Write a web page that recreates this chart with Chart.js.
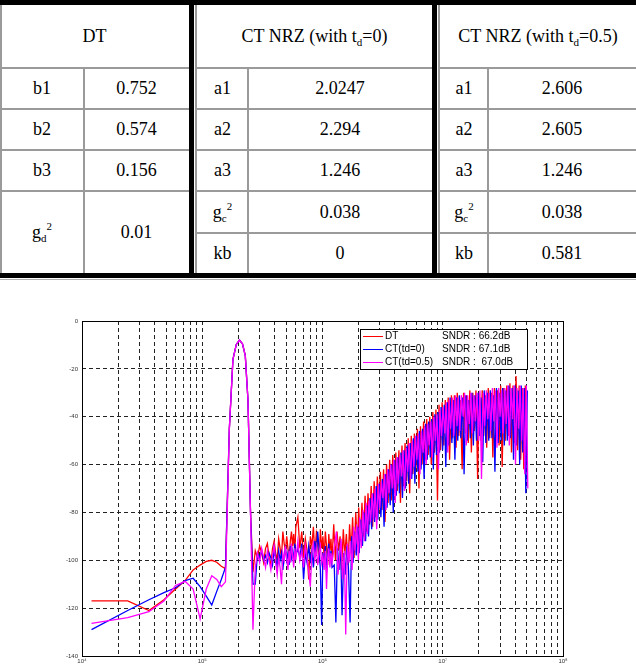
<!DOCTYPE html>
<html><head><meta charset="utf-8">
<script src="https://cdn.jsdelivr.net/npm/chart.js@4"></script>
<style>
html,body{margin:0;padding:0;background:#fff;}
body{width:636px;height:669px;position:relative;overflow:hidden;font-family:"Liberation Serif","Times New Roman",serif;}
#tbl{position:absolute;left:0;top:0;width:636px;height:281px;}
.cell{position:absolute;display:flex;align-items:center;justify-content:center;font-size:18px;color:#000;white-space:nowrap;}
.ln{position:absolute;}
.cell sub{font-size:11px;vertical-align:baseline;position:relative;top:4px;}
.cell sup{font-size:11px;vertical-align:baseline;position:relative;top:-8px;}
#cwrap{position:absolute;left:0;top:282px;width:636px;height:387px;}
</style></head><body>
<div id="tbl"></div>
<div id="cwrap"><canvas id="c" width="636" height="387"></canvas></div>
<script>
// ---------- table text ----------
const tableHeaders = ['DT', 'CT NRZ (with t<sub>d</sub>=0)', 'CT NRZ (with t<sub>d</sub>=0.5)'];
const dtParams  = ['b1', 'b2', 'b3', 'g<sub>d</sub><sup>2</sup>'];
const dtValues  = ['0.752', '0.574', '0.156', '0.01'];
const ct0Params = ['a1', 'a2', 'a3', 'g<sub>c</sub><sup>2</sup>', 'kb'];
const ct0Values = ['2.0247', '2.294', '1.246', '0.038', '0'];
const ct5Params = ['a1', 'a2', 'a3', 'g<sub>c</sub><sup>2</sup>', 'kb'];
const ct5Values = ['2.606', '2.605', '1.246', '0.038', '0.581'];

// ---------- chart data (frequency in kHz, level in dB) ----------
// shared low-frequency bins
const freqA = [12,24,36,48,60,72,84,96,108,120,
  132,144,156,168,180,192,204,216,228,240,
  252,264,276,288,300,312,324,336,348,360,
  372,384,396,408,420,432,444,456,468,480,
  492,504,516,528,540,552,564,576,588,600];
const freqB = [624,648,672,696,720,744,768,792,816,840,
  864,888,912,936,960,984,1008,1032,1056,1080,
  1104,1128,1152,1176,1200];
// high-frequency bins sampled for each trace
const freqC_dt = [1240,1280,1320,1360,1400,1440,1490,1530,1580,1630,
  1680,1730,1780,1830,1890,1950,2000,2060,2130,2190,
  2260,2320,2390,2460,2540,2610,2690,2770,2860,2940,
  3030,3120,3220,3310,3410,3510,3620,3730,3840,3950,
  4070,4190,4320,4450,4580,4720,4860,5010,5160,5310,
  5470,5640,5810,5980,6160,6340,6530,6730,6930,7140,
  7350,7570,7800,8030,8270,8520,8780,9040,9310,9590,
  9880,10200,10500,10800,11100,11400,11800,12100,12500,12900,
  13200,13600,14000,14500,14900,15400,15800,16300,16800,17300,
  17800,18300,18900,19500,20000,20600,21300,21900,22600,23200,
  23900,24600,25400,26100,26900,27700,28600,29400,30300,31200,
  32200,33100,34100,35100,36200,37300,38400,39500,40700,41900,
  43200,44500,45800,47200,48600,50000];
const freqC_ct0 = [1252,1292,1333,1373,1413,1454,1504,1545,1595,1646,
  1696,1747,1797,1848,1908,1969,2019,2080,2150,2211,
  2282,2342,2413,2484,2564,2635,2716,2797,2887,2968,
  3059,3150,3251,3342,3443,3544,3655,3766,3877,3988,
  4109,4230,4361,4493,4624,4765,4907,5058,5210,5361,
  5523,5694,5866,6037,6219,6401,6593,6795,6997,7209,
  7421,7643,7875,8107,8349,8602,8864,9127,9399,9682,
  9975,10298,10601,10904,11207,11509,11913,12216,12620,13024,
  13327,13731,14134,14639,15043,15548,15952,16456,16961,17466,
  17971,18476,19081,19687,20192,20798,21504,22110,22817,23423,
  24129,24836,25644,26351,27158,27966,28875,29682,30591,31500,
  32509,33418,34427,35437,36548,37658,38769,39879,41091,42302,
  43615,44927,46240,47653,49067,50480];
const freqC_ct5 = [1265,1305,1345,1386,1427,1468,1519,1560,1610,1661,
  1712,1763,1814,1865,1926,1988,2039,2100,2171,2232,
  2304,2365,2436,2507,2589,2660,2742,2823,2915,2997,
  3088,3180,3282,3374,3476,3578,3690,3802,3914,4026,
  4149,4271,4403,4536,4668,4811,4954,5107,5260,5413,
  5576,5749,5922,6095,6279,6462,6656,6860,7064,7278,
  7492,7716,7951,8185,8430,8684,8949,9214,9490,9775,
  10071,10397,10703,11008,11314,11620,12028,12334,12741,13149,
  13455,13862,14270,14780,15188,15697,16105,16615,17124,17634,
  18144,18653,19265,19876,20386,20998,21711,22323,23036,23648,
  24361,25075,25890,26604,27419,28235,29152,29967,30885,31802,
  32821,33739,34758,35777,36899,38020,39141,40262,41486,42709,
  44034,45359,46684,48111,49538,50965];

const dtA = [-117,-117,-121,-116.5,-112,-108.5,-104,-102,-100.5,-100,
  -100.8,-102.5,-103.5,-45,-16,-9.8,-8,-9.5,-14.5,-33,
  -80,-105,-96,-99,-94,-97,-101,-95,-93,-99,
  -102,-95,-92,-97,-100,-91,-95,-99,-88,-93,
  -96,-90,-95,-99,-92,-88,-94,-89,-97,-86];
const dtB = [-82,-95,-88,-99,-91,-96,-108,-90,-94,-86,
  -98,-89,-93,-101,-87,-95,-90,-99,-88,-94,
  -102,-89,-96,-91,-100];
const dtC = [-85,-100,-88,-96,-90,-104,-87,-98,-89,-102,
  -85,-97,-82,-99,-80,-94,-78,-92,-76,-90,
  -73,-88,-72,-85,-69,-86,-67,-82,-65,-80,
  -63,-79,-62,-84,-60,-76,-58,-75,-56,-72,
  -55,-71,-54,-76,-52,-69,-51,-67,-49,-72,
  -48,-64,-47,-62,-45,-70,-44,-60,-42,-58,
  -41,-56,-40,-60,-38,-55,-37,-75,-35,-54,
  -34,-52,-33,-50,-32,-58,-31,-49,-31,-53,
  -30,-48,-33,-62,-30,-47,-31,-51,-29,-55,
  -30,-46,-29,-66,-30,-50,-29,-48,-31,-53,
  -28,-49,-30,-57,-28,-47,-29,-52,-27,-61,
  -28,-50,-27,-48,-26,-55,-27,-51,-23,-54,
  -27,-58,-28,-62,-27,-56];

const ct0A = [-129,-121,-116.5,-113.5,-111.5,-108.5,-107.5,-111,-115,-118.7,
  -113,-108,-103,-45,-16,-9.8,-8,-9.5,-14.5,-33,
  -80,-110,-110,-97,-99,-96,-100,-98,-101,-97,
  -99,-102,-95,-99,-103,-96,-100,-97,-104,-98,
  -95,-100,-97,-102,-94,-99,-96,-101,-93,-98];
const ct0B = [-95,-99,-93,-108,-97,-101,-94,-100,-96,-103,
  -92,-98,-88,-95,-104,-127,-97,-101,-94,-105,
  -98,-93,-100,-96,-103];
const ct0C = [-102,-126,-95,-104,-92,-123,-97,-106,-94,-104,
  -126,-90,-101,-88,-98,-86,-97,-83,-94,-80,
  -92,-77,-90,-74,-87,-72,-84,-69,-83,-68,
  -82,-66,-86,-64,-78,-62,-77,-60,-80,-58,
  -73,-57,-72,-55,-74,-54,-70,-52,-68,-51,
  -66,-49,-68,-48,-63,-46,-62,-45,-66,-43,
  -58,-42,-57,-41,-62,-39,-56,-38,-55,-36,
  -54,-35,-61,-34,-52,-32,-51,-33,-58,-32,
  -50,-31,-49,-32,-64,-31,-50,-33,-49,-30,
  -52,-31,-50,-30,-48,-32,-59,-29,-51,-30,
  -50,-29,-49,-31,-63,-28,-51,-30,-50,-28,
  -52,-29,-50,-27,-49,-28,-58,-27,-52,-29,
  -60,-27,-55,-28,-72,-29];

const ct5A = [-126.4,-124,-121.5,-117,-110.5,-108.8,-112,-124.5,-112,-106.5,
  -108,-111,-109,-45,-16,-9.8,-8,-9.5,-14.5,-33,
  -80,-129,-103,-97,-101,-95,-99,-103,-96,-100,
  -104,-98,-94,-101,-106,-99,-103,-110,-97,-100,
  -94,-99,-104,-96,-101,-93,-98,-103,-95,-100];
const ct5B = [-92,-100,-96,-103,-94,-99,-105,-111,-97,-93,
  -100,-95,-102,-97,-94,-101,-98,-104,-96,-112,
  -99,-95,-103,-97,-101];
const ct5C = [-93,-88,-106,-99,-91,-108,-96,-131,-93,-101,
  -92,-104,-86,-96,-85,-100,-82,-95,-79,-92,
  -76,-89,-75,-84,-72,-83,-70,-87,-68,-78,
  -67,-74,-64,-79,-62,-72,-60,-70,-58,-76,
  -57,-68,-56,-65,-54,-71,-53,-63,-51,-66,
  -50,-61,-48,-58,-47,-64,-46,-55,-44,-60,
  -43,-52,-42,-57,-40,-50,-39,-62,-37,-48,
  -36,-47,-34,-55,-33,-45,-32,-48,-31,-44,
  -32,-46,-31,-40,-30,-52,-31,-43,-30,-47,
  -31,-42,-30,-50,-29,-66,-30,-44,-29,-41,
  -30,-46,-28,-42,-29,-53,-28,-40,-29,-47,
  -28,-43,-27,-52,-28,-41,-27,-60,-28,-45,
  -27,-50,-28,-64,-27,-70];

const seriesNames = ['DT', 'CT(td=0)', 'CT(td=0.5)'];
const sndrTexts = ['SNDR : 66.2dB', 'SNDR : 67.1dB', 'SNDR :  67.0dB'];
const yTickValues = [0, -20, -40, -60, -80, -100, -120, -140];
const xDecades = [1e4, 1e5, 1e6, 1e7, 1e8];
const xDecadeLabels = ['10\u2074', '10\u2075', '10\u2076', '10\u2077', '10\u2078'];
const xMinorMultipliers = [1, 2, 3, 4, 5, 6, 7, 8, 9];

// ---------- build table ----------
const tbl = document.getElementById('tbl');
function addCell(x, y, w, h, html) {
  const d = document.createElement('div');
  d.className = 'cell';
  d.style.left = x + 'px'; d.style.top = y + 'px';
  d.style.width = w + 'px'; d.style.height = h + 'px';
  const s = document.createElement('span');
  s.innerHTML = html;
  d.appendChild(s);
  tbl.appendChild(d);
}
function addLine(x, y, w, h, c) {
  const d = document.createElement('div');
  d.className = 'ln';
  d.style.left = x + 'px'; d.style.top = y + 'px';
  d.style.width = w + 'px'; d.style.height = h + 'px';
  d.style.background = c;
  tbl.appendChild(d);
}
const groups = [
  {l: 0, s: 84, r: 189, params: dtParams, values: dtValues},
  {l: 197, s: 248, r: 432, params: ct0Params, values: ct0Values},
  {l: 440, s: 488, r: 636, params: ct5Params, values: ct5Values}
];
const rowEdges = [68, 109, 150, 191, 233, 273];
const gray = '#9a9a9a';
groups.forEach((g, gi) => {
  addCell(g.l, 5, g.r - g.l, 63, tableHeaders[gi]);
  const n = g.params.length;
  for (let i = 0; i < n; i++) {
    const top = rowEdges[i];
    const bottom = (gi === 0 && i === n - 1) ? rowEdges[5] : rowEdges[i + 1];
    addCell(g.l, top, g.s - g.l, bottom - top, g.params[i]);
    addCell(g.s, top, g.r - g.s, bottom - top, g.values[i]);
  }
  const nLines = (gi === 0) ? 4 : 5;
  for (let i = 0; i < nLines; i++) addLine(g.l, rowEdges[i] - 1, g.r - g.l, 2, gray);
  addLine(g.s - 1, rowEdges[0], 2, rowEdges[5] - rowEdges[0], gray);
});
addLine(0, 0, 2, 278, gray);
addLine(195, 0, 2, 278, gray);
addLine(438, 0, 2, 278, gray);
addLine(0, 0, 636, 5, '#000');
addLine(0, 273, 636, 5, '#000');
addLine(0, 279, 636, 1, '#b0b0b0');
addLine(189, 0, 5, 278, '#000');
addLine(432, 0, 5, 278, '#000');

// ---------- chart ----------
function toPoints(freqs, vals) {
  const n = Math.min(freqs.length, vals.length);
  const out = [];
  for (let i = 0; i < n; i++) out.push({x: freqs[i] * 1000, y: vals[i]});
  return out;
}
const freqLow = freqA.concat(freqB);
const xTickValues = [];
xDecades.forEach((d, i) => {
  if (i < xDecades.length - 1) xMinorMultipliers.forEach(m => xTickValues.push(m * d));
  else xTickValues.push(d);
});

const framePlugin = {
  id: 'frame',
  afterDraw(chart) {
    const {ctx, chartArea: a} = chart;
    ctx.save();
    ctx.setLineDash([]);
    ctx.strokeStyle = '#000';
    ctx.lineWidth = 1;
    ctx.strokeRect(Math.round(a.left) + 0.5, Math.round(a.top) + 0.5,
      Math.round(a.right - a.left), Math.round(a.bottom - a.top));
    // legend box
    const x0 = Math.round(a.left + 278), y0 = Math.round(a.top + 8), w = 167, h = 40;
    ctx.fillStyle = '#fff';
    ctx.fillRect(x0, y0, w, h);
    ctx.strokeRect(x0 + 0.5, y0 + 0.5, w, h);
    ctx.font = "10px 'Liberation Sans', Arial, sans-serif";
    ctx.textBaseline = 'middle';
    ctx.textAlign = 'left';
    seriesNames.forEach((name, i) => {
      const ds = chart.data.datasets[i];
      const y = y0 + 7 + i * 13;
      ctx.strokeStyle = ds.borderColor;
      ctx.beginPath();
      ctx.moveTo(x0 + 3, y + 0.5);
      ctx.lineTo(x0 + 23, y + 0.5);
      ctx.stroke();
      ctx.fillStyle = '#000';
      ctx.fillText(name, x0 + 25, y);
      ctx.fillText(sndrTexts[i], x0 + 82, y);
    });
    ctx.restore();
  }
};

const tickFont = {family: "'Liberation Sans', Arial, sans-serif", size: 6};
new Chart(document.getElementById('c'), {
  type: 'line',
  data: {
    datasets: [
      {label: seriesNames[0], borderColor: 'rgb(255,0,0)', order: 3,
       data: toPoints(freqLow.concat(freqC_dt), dtA.concat(dtB, dtC))},
      {label: seriesNames[1], borderColor: 'rgb(0,0,255)', order: 2,
       data: toPoints(freqLow.concat(freqC_ct0), ct0A.concat(ct0B, ct0C))},
      {label: seriesNames[2], borderColor: 'rgb(255,0,255)', order: 1,
       data: toPoints(freqLow.concat(freqC_ct5), ct5A.concat(ct5B, ct5C))}
    ]
  },
  options: {
    responsive: false,
    animation: false,
    elements: {
      line: {borderWidth: 1.3, tension: 0, fill: false},
      point: {radius: 0, hoverRadius: 0}
    },
    layout: {padding: {left: 0, top: 39, right: 73, bottom: 0}},
    plugins: {legend: {display: false}, tooltip: {enabled: false}},
    events: [],
    scales: {
      x: {
        type: 'logarithmic', min: 1e4, max: 1e8,
        afterBuildTicks: s => { s.ticks = xTickValues.map(v => ({value: v})); },
        afterFit: s => { s.height = 13; },
        ticks: {
          autoSkip: false, maxRotation: 0, minRotation: 0, padding: 2,
          font: tickFont, color: '#333',
          callback: v => { const i = xDecades.indexOf(v); return i >= 0 ? xDecadeLabels[i] : ''; }
        },
        grid: {color: '#222', lineWidth: 1, drawTicks: false},
        border: {display: false, dash: [4, 3]}
      },
      y: {
        type: 'linear', min: -140, max: 0,
        afterBuildTicks: s => { s.ticks = yTickValues.map(v => ({value: v})); },
        afterFit: s => { s.width = 82; },
        ticks: {padding: 4, font: tickFont, color: '#333'},
        grid: {color: '#222', lineWidth: 1, drawTicks: false},
        border: {display: false, dash: [4, 3]}
      }
    }
  },
  plugins: [framePlugin]
});
</script>
</body></html>
